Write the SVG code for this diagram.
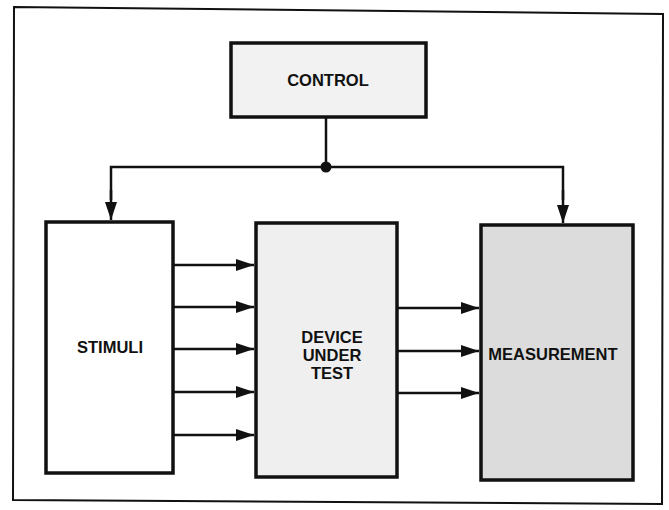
<svg xmlns="http://www.w3.org/2000/svg" width="669" height="510" viewBox="0 0 669 510">
<style>
.box{stroke:#111;stroke-width:3.5}
.lbl{font-family:"Liberation Sans",Arial,sans-serif;font-weight:bold;font-size:16.5px;fill:#111;text-anchor:middle}
.wire{stroke:#111;stroke-width:2.5;fill:none}
</style>
<defs>
<marker id="ah" viewBox="0 0 18 12" refX="18" refY="6" markerWidth="18" markerHeight="12" markerUnits="userSpaceOnUse" orient="auto">
<path d="M0,0 L18,6 L0,12 Z" fill="#111"/>
</marker>
</defs>
<rect width="669" height="510" fill="#fff"/>
<path d="M14,7 L663,14 L662,504 L13,500 Z" fill="none" stroke="#111" stroke-width="2"/>
<g id="control">
<rect class="box" x="231" y="43" width="195" height="74" fill="#f2f2f2"/>
<text class="lbl" x="328" y="86">CONTROL</text>
</g>
<g id="stimuli">
<rect class="box" x="46" y="222" width="127" height="251" fill="#fff"/>
<text class="lbl" x="110" y="353">STIMULI</text>
</g>
<g id="dut">
<rect class="box" x="256" y="223" width="141" height="254" fill="#efefef"/>
<text class="lbl" x="332" y="343">DEVICE</text>
<text class="lbl" x="332" y="361">UNDER</text>
<text class="lbl" x="332" y="379">TEST</text>
</g>
<g id="measurement">
<rect class="box" x="481" y="225" width="152" height="255" fill="#dcdcdc"/>
<text class="lbl" x="553" y="360">MEASUREMENT</text>
</g>
<g id="connectors">
<line class="wire" x1="326" y1="117" x2="326" y2="167"/>
<circle cx="326" cy="167" r="5.5" fill="#111"/>
<path class="wire" d="M111,200 L111,167 L563,167 L563,200"/>
<line class="wire" x1="111" y1="190" x2="111" y2="220" marker-end="url(#ah)"/>
<line class="wire" x1="563" y1="190" x2="563" y2="223" marker-end="url(#ah)"/>
<line class="wire" x1="174" y1="265" x2="254" y2="265" marker-end="url(#ah)"/>
<line class="wire" x1="174" y1="307" x2="254" y2="307" marker-end="url(#ah)"/>
<line class="wire" x1="174" y1="349" x2="254" y2="349" marker-end="url(#ah)"/>
<line class="wire" x1="174" y1="392" x2="254" y2="392" marker-end="url(#ah)"/>
<line class="wire" x1="174" y1="435" x2="254" y2="435" marker-end="url(#ah)"/>
<line class="wire" x1="398" y1="308" x2="479" y2="308" marker-end="url(#ah)"/>
<line class="wire" x1="398" y1="351" x2="479" y2="351" marker-end="url(#ah)"/>
<line class="wire" x1="398" y1="393" x2="479" y2="393" marker-end="url(#ah)"/>
</g>
</svg>
